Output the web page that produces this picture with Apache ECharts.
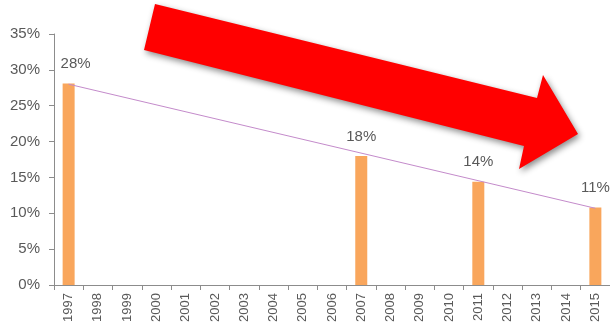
<!DOCTYPE html>
<html>
<head>
<meta charset="utf-8">
<script src="https://cdn.jsdelivr.net/npm/echarts@6/dist/echarts.min.js"></script>
<style>
  html, body { margin: 0; padding: 0; background: #fff; }
  #chart { width: 610px; height: 327px; }
</style>
</head>
<body>
<div id="chart"></div>
<script>
// Survey years along the horizontal axis
const years = ['1997', '1998', '1999', '2000', '2001', '2002', '2003', '2004', '2005', '2006',
               '2007', '2008', '2009', '2010', '2011', '2012', '2013', '2014', '2015'];

// Share (%) in the years that were measured; other years have no value
const shareValues = [28.1, null, null, null, null, null, null, null, null, null,
                     18.0, null, null, null, 14.4, null, null, null, 10.8];

// Straight trend line from the first to the last measured year
const trendYears = ['1997', '2015'];
const trendValues = [28.0, 10.7];

// Percent ticks on the value axis
const yTicks = [0, 5, 10, 15, 20, 25, 30, 35];

const textColor = '#595959';
const axisColor = '#8c8c8c';
const font = 'Liberation Sans, Arial, sans-serif';

const chart = echarts.init(document.getElementById('chart'), null, { renderer: 'canvas' });

chart.setOption({
  animation: false,
  backgroundColor: '#ffffff',
  grid: { left: 54, right: 0, top: 34, bottom: 42, containLabel: false },
  xAxis: {
    type: 'category',
    data: years,
    boundaryGap: true,
    axisLine: { lineStyle: { color: axisColor, width: 1 } },
    axisTick: { show: true, alignWithLabel: false, length: 5, lineStyle: { color: axisColor } },
    axisLabel: {
      rotate: 90, margin: 8, interval: 0,
      color: textColor, fontSize: 13, fontFamily: font
    },
    splitLine: { show: false }
  },
  yAxis: {
    type: 'value',
    min: yTicks[0],
    max: yTicks[yTicks.length - 1],
    interval: yTicks[1] - yTicks[0],
    axisLine: { show: true, lineStyle: { color: axisColor, width: 1 } },
    axisTick: { show: true, length: 5, lineStyle: { color: axisColor } },
    axisLabel: {
      margin: 14, color: textColor, fontSize: 15, fontFamily: font,
      formatter: '{value}%'
    },
    splitLine: { show: false }
  },
  series: [
    {
      type: 'bar',
      data: shareValues.map((v, i) => i === 0
        ? { value: v, label: { offset: [7, 0] } }
        : v),
      barWidth: 12,
      itemStyle: { color: '#F9A65C' },
      label: {
        show: true, position: 'top', distance: 12,
        color: textColor, fontSize: 15, fontFamily: font,
        formatter: p => Math.round(p.value) + '%'
      },
      z: 2
    },
    {
      type: 'line',
      data: trendYears.map((y, i) => [y, trendValues[i]]),
      symbol: 'none',
      lineStyle: { color: '#C48BCB', width: 1 },
      z: 3
    }
  ],
  graphic: [
    {
      type: 'polygon',
      z: 10,
      shape: {
        points: [
          [155, 4], [537, 98], [543, 75], [578, 134],
          [519, 169], [524, 146], [144, 50]
        ]
      },
      style: {
        fill: '#FF0000',
        shadowBlur: 6,
        shadowColor: 'rgba(0,0,0,0.45)',
        shadowOffsetX: 2,
        shadowOffsetY: 3
      }
    }
  ]
});
</script>
</body>
</html>
